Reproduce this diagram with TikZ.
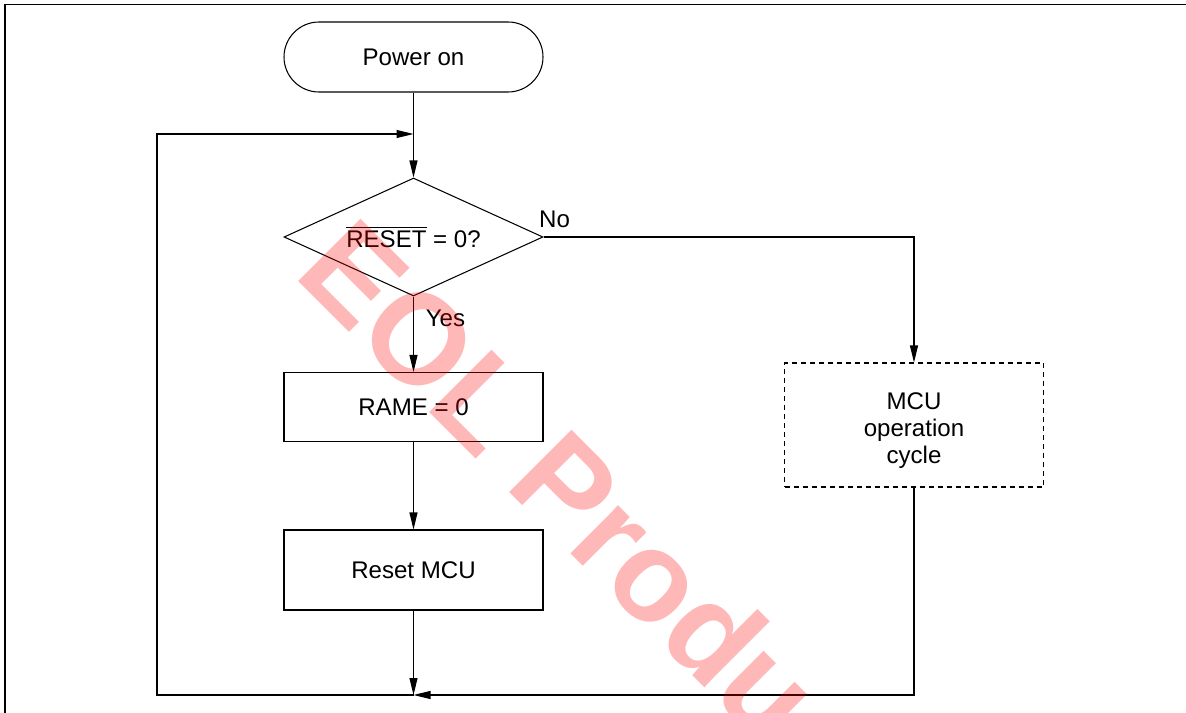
\documentclass[tikz,border=0pt]{standalone}
\usepackage{fontspec}
\setmainfont{Liberation Sans}
\usetikzlibrary{shapes.geometric, arrows.meta}

\begin{document}
\begin{tikzpicture}[
	font=\fontsize{13.7}{15.4}\selectfont,
	>={Triangle[length=3.4mm, width=1.6mm]},
	line width=0.6pt,
	box/.style={draw, rectangle, minimum width=5.18cm, minimum height=1.38cm},
	terminal/.style={draw, rectangle, rounded corners=0.7cm, minimum width=5.18cm, minimum height=1.4cm},
	decision/.style={draw, diamond, aspect=2.2, inner sep=0pt, minimum width=5.18cm, minimum height=2.36cm},
	dashbox/.style={box, dash pattern=on 1mm off 0.8mm, align=center, minimum height=2.48cm, text height=46.3pt},
	tag/.style={inner sep=0pt}
]
	\useasboundingbox (0, 0) rectangle (23.72, -14.26);

	% page frame
	\draw [line width=0.85pt] (23.72, -0.09) -- (0.1, -0.09) -- (0.1, -14.26);

	\node (power) at (8.27, -1.14) [terminal] {Power on};
	\node (test) at (8.27, -4.74) [decision] {$\overline{\mbox{RESET}}$ = 0?};
	\node (rame) at (8.27, -8.14) [box] {RAME = 0};
	\node (reset) at (8.27, -11.4) [box, minimum height=1.6cm] {Reset MCU};
	\node (cycle) at (18.28, -8.5) [dashbox] {MCU\\operation\\cycle};

	\node (no) at ([xshift=0.22cm, yshift=0.36cm]test.east) [tag] {No};
	\node (yes) at ([xshift=0.64cm, yshift=-0.44cm]test.south) [tag] {Yes};

	\coordinate (merge) at (8.27, -2.68);
	\coordinate (join) at (8.27, -13.9);

	\draw [->] (power) -- (test);
	\draw [->] (test) -- (rame);
	\draw [->] (rame) -- (reset);
	\draw [->] (reset) -- (join);
	\draw [->] (test.east) -| (cycle.north);
	\draw [->] (cycle.south) |- (join);
	\draw [->] (join) -| (3.14, -2.68) -- (merge);

	% watermark
	\begin{scope}
		\clip (0, 0) rectangle (23.72, -14.26);
		\node (eol) at (5.84, -5.5) [anchor=base west, rotate=-45, inner sep=0pt, text=red, text opacity=0.28,
			font=\fontsize{73}{80}\selectfont\bfseries] {EOL Products};
	\end{scope}
\end{tikzpicture}
\end{document}
